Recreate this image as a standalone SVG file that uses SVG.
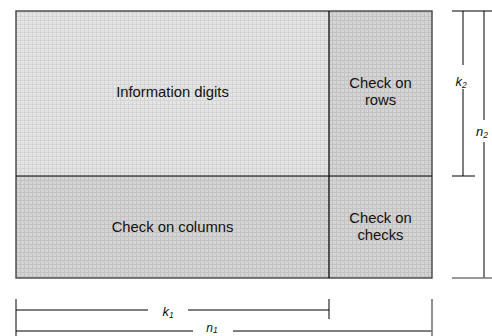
<svg xmlns="http://www.w3.org/2000/svg" width="492" height="336" viewBox="0 0 492 336">
<style>
text{font-family:"Liberation Sans",Arial,sans-serif;font-size:14.8px;fill:#111;text-anchor:middle}
.lbl{font-style:italic;font-size:13px}
.sub{font-size:8.5px}
.dim{stroke:#000;stroke-width:1;fill:none}
.dimg{stroke:#777;stroke-width:1.6;fill:none}
</style>
<defs>
<pattern id="pl" width="4" height="4" patternUnits="userSpaceOnUse">
<rect width="4" height="4" fill="#e4e4e4"/>
<path d="M0 0.5H4M0.5 0V4" stroke="#d5d5d5" stroke-width="1"/>
</pattern>
<pattern id="pd" width="4" height="4" patternUnits="userSpaceOnUse">
<rect width="4" height="4" fill="#d4d4d4"/>
<path d="M0 0.5H4M0.5 0V4" stroke="#c3c3c3" stroke-width="1"/>
</pattern>
</defs>
<g id="info">
<rect x="16" y="11" width="313" height="165" fill="url(#pl)"/>
<text x="172.5" y="97">Information digits</text>
</g>
<g id="rows">
<rect x="329" y="11" width="103" height="165" fill="url(#pd)"/>
<text x="380.5" y="88">Check on</text>
<text x="380.5" y="105">rows</text>
</g>
<g id="columns">
<rect x="16" y="176" width="313" height="102" fill="url(#pd)"/>
<text x="172.5" y="232">Check on columns</text>
</g>
<g id="checks">
<rect x="329" y="176" width="103" height="102" fill="url(#pd)"/>
<text x="380.5" y="223">Check on</text>
<text x="380.5" y="240">checks</text>
</g>
<g id="frame">
<rect x="16" y="11" width="416" height="267" fill="none" stroke="#444" stroke-width="1.4"/>
<path d="M16 176H432M329 11V278" stroke="#000" stroke-width="1.2" fill="none"/>
</g>
<g id="connectors">
<path class="dim" d="M452 11H492M463 11V65M463 89V176M452 176H475M484 11V120M484 142V278"/>
<path class="dimg" d="M452 278H492"/>
<path class="dim" d="M16 299V336M16 310H148M188 310H329M329 299V319M16 331H193M233 331H432"/>
<path class="dimg" d="M432 299V336"/>
</g>
<g id="labels">
<text class="lbl" x="461" y="86">k<tspan class="sub" dy="2">2</tspan></text>
<text class="lbl" x="482" y="136">n<tspan class="sub" dy="2">2</tspan></text>
<text class="lbl" x="168" y="316">k<tspan class="sub" dy="2">1</tspan></text>
<text class="lbl" x="212" y="332" style="font-size:12px">n<tspan class="sub" dy="1">1</tspan></text>
</g>
</svg>
